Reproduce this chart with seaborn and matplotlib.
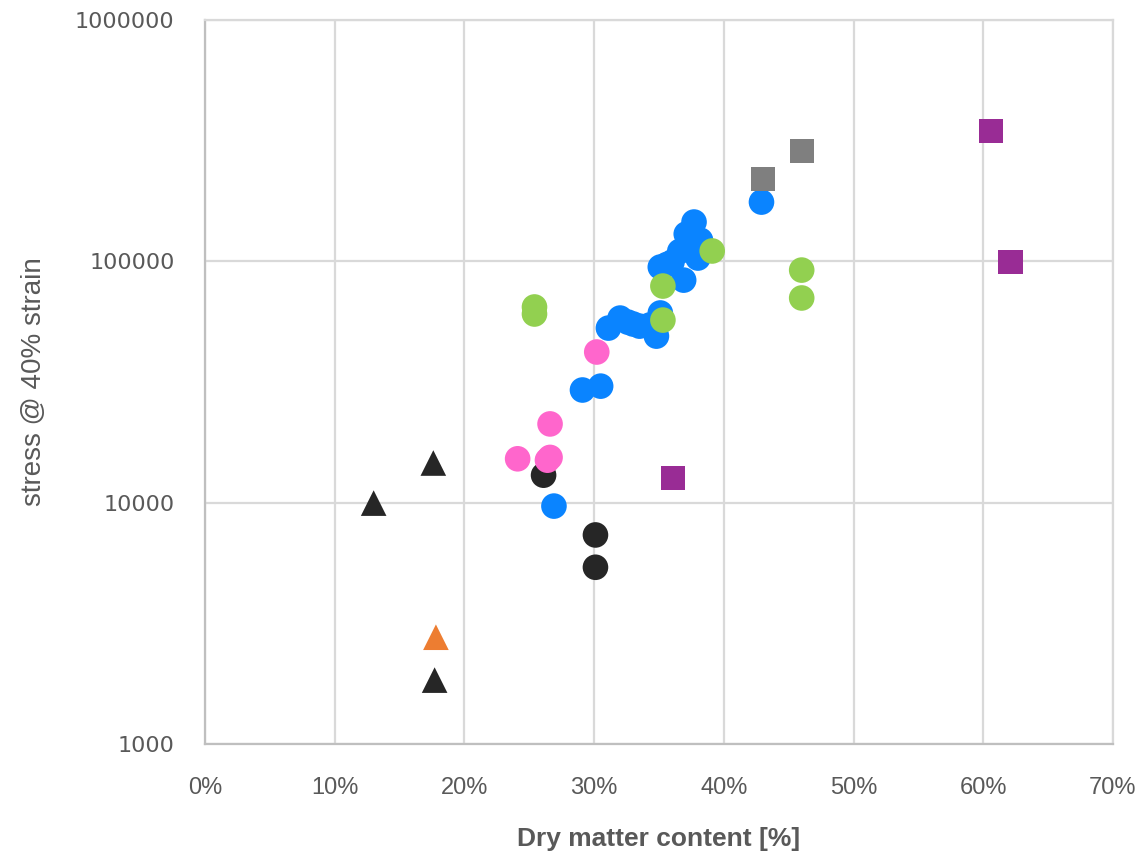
import numpy as np
import pandas as pd
import matplotlib
matplotlib.use('Agg')
import matplotlib.pyplot as plt
import seaborn as sns
from matplotlib.ticker import FixedLocator, FuncFormatter, NullLocator

# Dry matter content [%] and stress @ 40% strain, per group
blue_x = [42.9, 37.7, 37.1, 38.2, 38.0, 35.1, 36.0, 36.9, 35.1, 34.8, 31.1, 32.0,
          32.6, 33.5, 29.1, 30.5, 26.9, 36.6, 37.5, 35.6, 33.0, 34.3]
blue_y = [176000, 145500, 129800, 122300, 103200, 94700, 99300, 83600, 61100, 49000,
          52900, 58200, 56000, 53900, 29300, 30400, 9680, 110000, 116000, 97000, 55000, 54500]

green_x = [25.4, 25.4, 35.3, 35.3, 39.1, 46.0, 46.0]
green_y = [64700, 60500, 79000, 57100, 110400, 92000, 70500]

pink_x = [30.2, 26.6, 24.1, 26.4, 26.6]
pink_y = [42100, 21200, 15200, 15000, 15400]

black_c_x = [26.1, 30.1, 30.1]
black_c_y = [13000, 7350, 5400]

black_t_x = [13.0, 17.6, 17.7]
black_t_y = [9960, 14600, 1840]

orange_t_x = [17.8]
orange_t_y = [2770]

gray_s_x = [43.0, 46.0]
gray_s_y = [219000, 286000]

purple_s_x = [60.6, 62.1, 36.1]
purple_s_y = [347000, 99300, 12650]

x_ticks = [0, 10, 20, 30, 40, 50, 60, 70]
y_ticks = [1000, 10000, 100000, 1000000]

groups = [
    (black_c_x, black_c_y, '#262626', 'o', 340),
    (blue_x, blue_y, '#0A84FF', 'o', 340),
    (green_x, green_y, '#92D050', 'o', 340),
    (pink_x, pink_y, '#FF66CC', 'o', 340),
    (black_t_x, black_t_y, '#262626', '^', 340),
    (orange_t_x, orange_t_y, '#ED7D31', '^', 340),
    (gray_s_x, gray_s_y, '#7F7F7F', 's', 300),
    (purple_s_x, purple_s_y, '#992C95', 's', 300),
]

sns.set_style("white")
fig = plt.figure(figsize=(11.48, 8.55), dpi=100)
ax = fig.add_axes([0.1786, 0.1298, 0.7909, 0.8468])

for gx, gy, col, mk, sz in groups:
    df = pd.DataFrame({'x': gx, 'y': gy})
    sns.scatterplot(data=df, x='x', y='y', ax=ax, color=col, marker=mk, s=sz,
                    edgecolor='none', linewidth=0, zorder=3, legend=False)

ax.set_yscale('log')
ax.set_xlim(0, 70)
ax.set_ylim(1000, 1000000)
ax.xaxis.set_major_locator(FixedLocator(x_ticks))
ax.yaxis.set_major_locator(FixedLocator(y_ticks))
ax.yaxis.set_minor_locator(NullLocator())
ax.xaxis.set_major_formatter(FuncFormatter(lambda v, p: f"{int(round(v))}%"))
ax.yaxis.set_major_formatter(FuncFormatter(lambda v, p: f"{int(round(v))}"))

ax.grid(True, which='major', color='#D9D9D9', linewidth=1.6, zorder=0)
ax.set_axisbelow(True)
for side in ['top', 'right']:
    ax.spines[side].set_color('#D9D9D9')
    ax.spines[side].set_linewidth(1.6)
for side in ['left', 'bottom']:
    ax.spines[side].set_color('#BFBFBF')
    ax.spines[side].set_linewidth(1.6)

ax.tick_params(axis='both', length=0, colors='#595959')
for lab in ax.get_xticklabels():
    lab.set_fontsize(17)
    lab.set_family(['Liberation Sans', 'DejaVu Sans'])
for lab in ax.get_yticklabels():
    lab.set_fontsize(16)
    lab.set_family(['DejaVu Sans'])
ax.tick_params(axis='x', pad=24)
ax.tick_params(axis='y', pad=22)

ax.set_xlabel('Dry matter content [%]', fontsize=19, fontweight='bold', color='#595959',
              family=['Liberation Sans', 'DejaVu Sans'], labelpad=20)
ax.set_ylabel('stress @ 40% strain', fontsize=20, color='#595959',
              family=['Liberation Sans', 'DejaVu Sans'], labelpad=20)

fig.savefig('out.png', dpi=100)
